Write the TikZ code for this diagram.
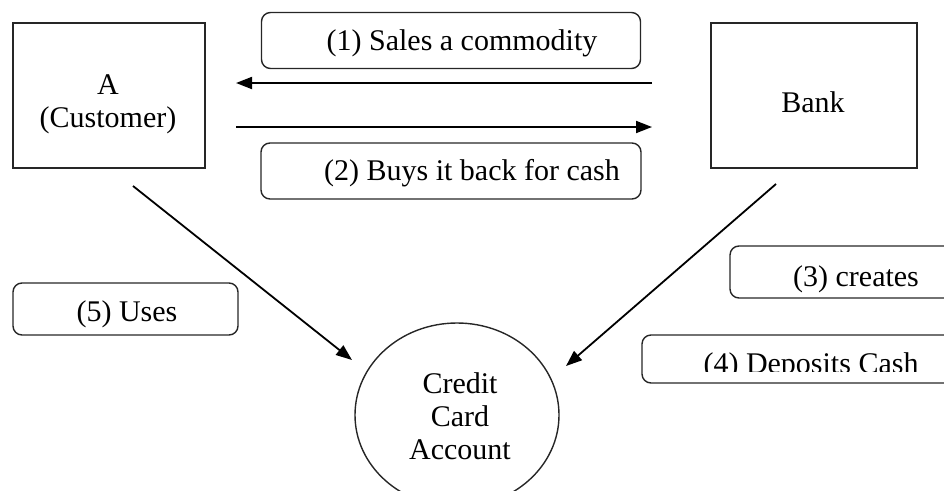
\documentclass[tikz,border=0pt]{standalone}
\usepackage{fontspec}
\setmainfont{Liberation Serif}
\usetikzlibrary{arrows.meta,shapes.geometric}
\tikzset{
  box/.style={draw=black!85, line width=1.6pt, inner sep=0pt},
  lbl/.style={draw=black!85, line width=1.4pt, rounded corners=9pt, inner sep=0pt},
  txt/.style={font=\fontsize{30}{33}\selectfont, align=center, inner sep=0pt},
  arr/.style={line width=1.8pt, -{Triangle[length=16pt,width=12pt]}}
}
\begin{document}
\begin{tikzpicture}[x=1pt,y=-1pt]
\useasboundingbox (0,0) rectangle (944,490);
\clip (0,0) rectangle (944,490);
% main boxes
\node[box, minimum width=192pt, minimum height=145pt] (A) at (109,95.5) {};
\node[txt] (At) at (108,104) {A\\(Customer)};
\node[box, minimum width=206pt, minimum height=145pt] (B) at (814,95.5) {};
\node[txt] (Bt) at (813,102) {Bank};
% label boxes
\node[lbl, minimum width=379pt, minimum height=56pt] (L1) at (451,40.5) {};
\node[txt] (L1t) at (462,43) {(1) Sales a commodity};
\node[lbl, minimum width=380pt, minimum height=56pt] (L2) at (451,171) {};
\node[txt] (L2t) at (472,173) {(2) Buys it back for cash};
\node[lbl, minimum width=240pt, minimum height=52pt] (L3) at (850,272) {};
\node[txt] (L3t) at (856,279) {(3) creates};
\node[lbl, minimum width=320pt, minimum height=48pt] (L4) at (802,359) {};
\begin{scope}
  \clip (640,330) rectangle (944,371.5);
  \node[txt] (L4t) at (811,366) {(4) Deposits Cash};
\end{scope}
\node[lbl, minimum width=225pt, minimum height=52pt] (L5) at (125.5,309) {};
\node[txt] (L5t) at (127,314) {(5) Uses};
% ellipse
\node[ellipse, draw=black!85, line width=1.4pt, minimum width=204pt, minimum height=184pt, inner sep=0pt] (C) at (457,415) {};
\node[txt] (Ct) at (460,416) {Credit\\Card\\Account};
% connectors
\coordinate (h1s) at (652,83);
\coordinate (h1e) at (236,83);
\coordinate (h2s) at (236,127);
\coordinate (h2e) at (652,127);
\coordinate (d1s) at (133,186);
\coordinate (d1e) at (352,360);
\coordinate (d2s) at (776,184);
\coordinate (d2e) at (566,366);
\draw[arr] (h1s) -- (h1e);
\draw[arr] (h2s) -- (h2e);
\draw[arr] (d1s) -- (d1e);
\draw[arr] (d2s) -- (d2e);
\end{tikzpicture}
\end{document}
